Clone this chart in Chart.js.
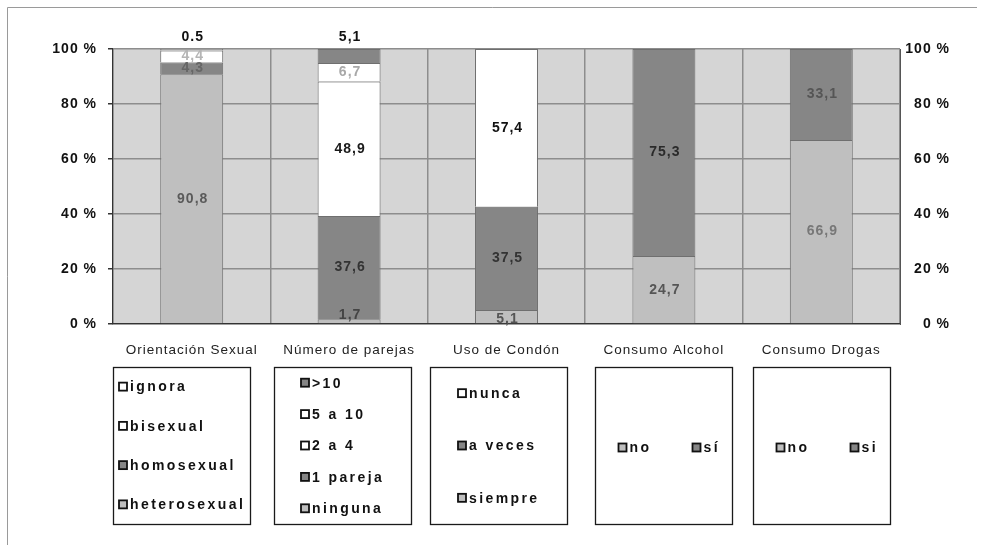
<!DOCTYPE html>
<html>
<head>
<meta charset="utf-8">
<script src="https://cdn.jsdelivr.net/npm/chart.js@4.4.1/dist/chart.umd.min.js"></script>
<style>
  html, body { margin: 0; padding: 0; background: #ffffff; }
  #wrap { width: 983px; height: 552px; position: relative; }
</style>
</head>
<body>
<div id="wrap"><canvas id="chart" width="983" height="552"></canvas></div>
<script>
// ---- data ----
const categories = ['Orientación Sexual', 'Número de parejas', 'Uso de Condón', 'Consumo Alcohol', 'Consumo Drogas'];

const orientacionLabels = ['heterosexual', 'homosexual', 'bisexual', 'ignora'];
const orientacionValues = [90.8, 4.3, 4.4, 0.5];

const parejasLabels = ['ninguna', '1 pareja', '2 a 4', '5 a 10', '>10'];
const parejasValues = [1.7, 37.6, 48.9, 6.7, 5.1];

const condonLabels = ['siempre', 'a veces', 'nunca'];
const condonValues = [5.1, 37.5, 57.4];

const alcoholLabels = ['no', 'sí'];
const alcoholValues = [24.7, 75.3];

const drogasLabels = ['no', 'si'];
const drogasValues = [66.9, 33.1];

const yTickValues = [0, 20, 40, 60, 80, 100];

// ---- styles ----
const LIGHT = '#bfbfbf';
const DARK = '#868686';
const WHITE = '#ffffff';
const FONT = '"Liberation Sans", Arial, sans-serif';
const SPACING = '1px';

// one entry per category: segment fills, label colours, label placement
const groups = [
  { labels: orientacionLabels, values: orientacionValues,
    fills: [LIGHT, DARK, WHITE, WHITE],
    text: ['#5a5a5a', '#666666', '#b5b5b5', '#111111'],
    outside: [false, false, false, true], dy: [0, 0, 0, 0], sep: [',', ',', ',', '.'],
    legend: 'column', boxShift: -10 },
  { labels: parejasLabels, values: parejasValues,
    fills: [LIGHT, DARK, WHITE, WHITE, DARK],
    text: ['#444444', '#333333', '#1a1a1a', '#a8a8a8', '#111111'],
    outside: [false, false, false, false, true], dy: [-6, 0, 0, 0, 0], sep: [',', ',', ',', ',', ','],
    legend: 'column', boxShift: -7 },
  { labels: condonLabels, values: condonValues,
    fills: [LIGHT, DARK, WHITE],
    text: ['#555555', '#333333', '#111111'],
    outside: [false, false, false], dy: [3, 0, 0], sep: [',', ',', ','],
    legend: 'column', boxShift: -8 },
  { labels: alcoholLabels, values: alcoholValues,
    fills: [LIGHT, DARK],
    text: ['#555555', '#2a2a2a'],
    outside: [false, false], dy: [0, 0], sep: [',', ','],
    legend: 'row', boxShift: 0 },
  { labels: drogasLabels, values: drogasValues,
    fills: [LIGHT, DARK],
    text: ['#777777', '#555555'],
    outside: [false, false], dy: [0, 0], sep: [',', ','],
    legend: 'row', boxShift: 0 }
];

// every segment is its own dataset, placed only in its own category column
const datasets = [];
groups.forEach((g, gi) => {
  g.labels.forEach((lab, si) => {
    datasets.push({
      label: lab,
      data: categories.map((_, ci) => (ci === gi ? g.values[si] : null)),
      backgroundColor: g.fills[si],
      borderColor: '#6f6f6f',
      borderWidth: 1,
      stack: 'total',
      group: gi,
      seg: si
    });
  });
});

// grey plot background and frame
const backdrop = {
  id: 'backdrop',
  beforeUpdate(chart) { chart.ctx.letterSpacing = SPACING; },
  beforeDraw(chart) {
    const { ctx, chartArea: a } = chart;
    ctx.letterSpacing = SPACING;
    ctx.save();
    ctx.fillStyle = '#d5d5d5';
    ctx.fillRect(a.left, a.top, a.right - a.left, a.bottom - a.top);
    ctx.strokeStyle = '#9a9a9a';
    ctx.lineWidth = 1;
    ctx.beginPath();
    ctx.moveTo(7.5, 545);
    ctx.lineTo(7.5, 7.5);
    ctx.lineTo(977, 7.5);
    ctx.stroke();
    ctx.restore();
  }
};

// value labels on the segments
const valueLabels = {
  id: 'valueLabels',
  afterDatasetsDraw(chart) {
    const { ctx, chartArea: a } = chart;
    ctx.save();
    ctx.font = 'bold 14px ' + FONT;
    ctx.letterSpacing = '1px';
    ctx.textAlign = 'center';
    ctx.textBaseline = 'middle';
    chart.data.datasets.forEach((ds, di) => {
      const g = groups[ds.group];
      const si = ds.seg;
      const el = chart.getDatasetMeta(di).data[ds.group];
      if (!el) return;
      const v = g.values[si];
      const txt = v.toFixed(1).replace('.', g.sep[si]);
      const y = g.outside[si] ? a.top - 12 : (el.y + el.base) / 2 + g.dy[si];
      ctx.fillStyle = g.text[si];
      ctx.fillText(txt, el.x + 1, y);
    });
    ctx.restore();
  }
};

// one legend box under each category
const groupLegends = {
  id: 'groupLegends',
  afterDraw(chart) {
    const { ctx, chartArea: a } = chart;
    const xs = chart.scales.x;
    const boxW = 137, boxH = 157, top = a.bottom + 43, mk = 8;
    ctx.save();
    ctx.font = 'bold 14px ' + FONT;
    ctx.letterSpacing = '2.4px';
    ctx.textBaseline = 'middle';
    ctx.textAlign = 'left';
    groups.forEach((g, gi) => {
      const cx = xs.getPixelForValue(gi) + g.boxShift;
      const left = Math.round(cx - boxW / 2) + 0.5;
      ctx.strokeStyle = '#1a1a1a';
      ctx.lineWidth = 1.3;
      ctx.strokeRect(left, top + 0.5, boxW, boxH);
      const items = g.labels.map((l, i) => ({ l, fill: g.fills[i] })).reverse();
      const drawItem = (it, x, y) => {
        ctx.fillStyle = it.fill;
        ctx.fillRect(x, y - mk / 2, mk, mk);
        ctx.strokeStyle = '#111111';
        ctx.lineWidth = 1.8;
        ctx.strokeRect(x, y - mk / 2, mk, mk);
        ctx.fillStyle = '#111111';
        ctx.fillText(it.l, x + mk + 3, y + 1);
      };
      if (g.legend === 'column') {
        const widest = Math.max(...items.map(it => ctx.measureText(it.l).width));
        const startX = Math.round(left + (boxW - (mk + 3 + widest)) / 2);
        const step = boxH / items.length;
        items.forEach((it, k) => drawItem(it, startX, top + step * (k + 0.5)));
      } else {
        // row layout keeps the bottom segment first
        const rowItems = items.slice().reverse();
        rowItems.forEach((it, k) => drawItem(it, left + 23 + k * 74, top + boxH / 2 + 2));
      }
    });
    ctx.restore();
  }
};

const GRID = '#8d8d8d';

new Chart(document.getElementById('chart'), {
  type: 'bar',
  data: { labels: categories, datasets },
  options: {
    responsive: false,
    animation: false,
    events: [],
    layout: { padding: { top: 49, left: 0, right: 33, bottom: 0 } },
    datasets: { bar: { categoryPercentage: 1, barPercentage: 0.4 } },
    plugins: { legend: { display: false }, tooltip: { enabled: false } },
    scales: {
      x: {
        stacked: true,
        afterFit(s) { s.height = 228; },
        grid: { color: GRID, lineWidth: 1.5, drawTicks: false, offset: true },
        border: { display: true, color: '#333333', width: 1.2 },
        ticks: { padding: 18, color: '#222222', font: { family: FONT, size: 13.5 }, maxRotation: 0, autoSkip: false }
      },
      y: {
        stacked: true,
        position: 'left',
        min: 0, max: 100,
        afterFit(s) { s.width = 113; },
        afterBuildTicks(s) { s.ticks = yTickValues.map(v => ({ value: v })); },
        grid: { color: GRID, lineWidth: 1.5, drawTicks: true, tickLength: 5, tickColor: '#333333' },
        border: { display: true, color: '#333333', width: 1.2 },
        ticks: { padding: 11, color: '#111111', font: { family: FONT, size: 14, weight: 'bold' },
                 callback: v => v + ' %' }
      },
      yRight: {
        position: 'right',
        min: 0, max: 100,
        afterFit(s) { s.width = 50; },
        afterBuildTicks(s) { s.ticks = yTickValues.map(v => ({ value: v })); },
        grid: { drawOnChartArea: false, drawTicks: false },
        border: { display: true, color: '#555555', width: 1 },
        ticks: { padding: 4, crossAlign: 'far', color: '#111111', font: { family: FONT, size: 14, weight: 'bold' },
                 callback: v => v + ' %' }
      }
    }
  },
  plugins: [backdrop, valueLabels, groupLegends]
});
</script>
</body>
</html>
